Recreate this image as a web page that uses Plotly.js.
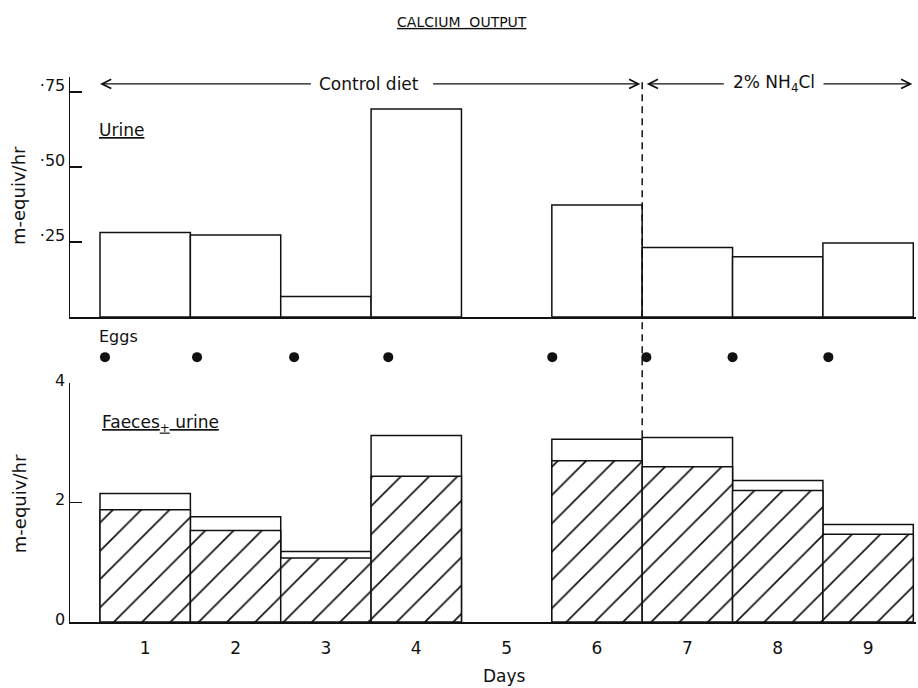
<!DOCTYPE html>
<html><head><meta charset="utf-8">
<script src="https://cdn.plot.ly/plotly-3.0.1.min.js"></script>
<style>html,body{margin:0;padding:0;background:#fff}</style>
</head><body><div id="chart" style="width:918px;height:688px"></div>
<script>
// ---- data ----
const days = [1, 2, 3, 4, 5, 6, 7, 8, 9];
const dayLabels = ['1', '2', '3', '4', '5', '6', '7', '8', '9'];
const urineCa  = [0.282, 0.273, 0.068, 0.693, null, 0.373, 0.232, 0.201, 0.247];
const totalCa  = [2.15, 1.76, 1.18, 3.12, null, 3.06, 3.09, 2.37, 1.63];
const faecesCa = [1.88, 1.53, 1.07, 2.44, null, 2.70, 2.60, 2.20, 1.47];
const eggTimes = [0.555, 1.574, 2.648, 3.69, 5.505, 6.546, 7.5, 8.56];
const urineTicks = [0.25, 0.5, 0.75];
const urineTickText = ['·25', '·50', '·75'];
const totalTicks = [0, 2, 4];
const totalTickText = ['0', '2', '4'];
const dietChangeDay = 6.5;

const FONT = 'DejaVu Sans, Arial, sans-serif';
const black = '#111';

const traces = [
  { type: 'bar', x: days, y: urineCa, xaxis: 'x2', yaxis: 'y2', width: 1,
    marker: { color: 'white', line: { color: black, width: 1.5 } }, hoverinfo: 'skip' },
  { type: 'bar', x: days, y: totalCa, xaxis: 'x', yaxis: 'y', width: 1,
    marker: { color: 'white', line: { color: black, width: 1.5 } }, hoverinfo: 'skip' },
  { type: 'bar', x: days, y: faecesCa, xaxis: 'x', yaxis: 'y', width: 1,
    marker: { color: 'white', line: { color: black, width: 1.5 },
      pattern: { shape: '/', fgcolor: black, bgcolor: 'white', size: 20, solidity: 0.085 } },
    hoverinfo: 'skip' },
  { type: 'scatter', mode: 'markers', x: eggTimes, y: eggTimes.map(() => 0),
    xaxis: 'x3', yaxis: 'y3', marker: { color: black, size: 10 }, hoverinfo: 'skip' }
];

const yTitle = (y) => ({ xref: 'paper', yref: 'paper', x: -0.0603, y: y, xanchor: 'center', yanchor: 'middle',
  text: 'm-equiv/hr', textangle: -90, showarrow: false, font: { family: FONT, size: 18, color: black } });
const arrow = (xHead, xTail, y) => ({ xref: 'x2', yref: 'y2', axref: 'x2', ayref: 'y2',
  x: xHead, y: y, ax: xTail, ay: y, text: '', showarrow: true, arrowhead: 5,
  arrowsize: 1.4, arrowwidth: 1.3, arrowcolor: black, standoff: 0, startstandoff: 0 });

const layout = {
  width: 918, height: 688,
  margin: { l: 70, r: 2, t: 77, b: 66 },
  paper_bgcolor: 'white', plot_bgcolor: 'white',
  showlegend: false, barmode: 'overlay', bargap: 0,
  font: { family: FONT, color: black },
  title: { text: '<u>CALCIUM  OUTPUT</u>', xref: 'container', yref: 'container',
    x: 0.503, y: 0.968, xanchor: 'center', yanchor: 'middle', font: { family: FONT, size: 14, color: black } },
  xaxis: { domain: [0, 1], range: [0.168, 9.53], anchor: 'y', showline: true, linecolor: black, linewidth: 1.5,
    ticks: '', tickvals: days, ticktext: dayLabels, tickfont: { family: FONT, size: 17, color: black },
    ticklabelstandoff: 10, showgrid: false, zeroline: false, fixedrange: true },
  xaxis2: { matches: 'x', anchor: 'y2', showline: true, linecolor: black, linewidth: 1.5,
    ticks: '', showticklabels: false, showgrid: false, zeroline: false, fixedrange: true },
  xaxis3: { matches: 'x', anchor: 'y3', visible: false, fixedrange: true },
  yaxis: { domain: [0, 0.4385], range: [0, 4], anchor: 'x', showline: true, linecolor: black, linewidth: 1.5,
    ticks: 'inside', ticklen: 12, tickwidth: 1.5, tickcolor: black, tickvals: totalTicks, ticktext: totalTickText,
    ticklabelshift: -3,
    tickfont: { family: FONT, size: 16, color: black }, showgrid: false, zeroline: false, fixedrange: true },
  yaxis2: { domain: [0.5596, 1], range: [0, 0.8], anchor: 'x2', showline: true, linecolor: black, linewidth: 1.5,
    ticks: 'inside', ticklen: 12, tickwidth: 1.5, tickcolor: black, tickvals: urineTicks, ticktext: urineTickText,
    ticklabelshift: -7,
    tickfont: { family: FONT, size: 16, color: black }, showgrid: false, zeroline: false, fixedrange: true },
  yaxis3: { domain: [0.446, 0.526], range: [-1, 1], anchor: 'x3', visible: false, fixedrange: true },
  shapes: [
    { type: 'line', xref: 'x', yref: 'paper', x0: dietChangeDay, x1: dietChangeDay, y0: 0.339, y1: 0.995,
      line: { color: black, width: 1.5, dash: '7px,5px' } }
  ],
  annotations: [
    yTitle(0.7835), yTitle(0.218),
    { xref: 'paper', yref: 'paper', x: 0.514, y: -0.099, xanchor: 'center', yanchor: 'middle', text: 'Days',
      showarrow: false, font: { family: FONT, size: 17, color: black } },
    { xref: 'x2', yref: 'y2', x: 0.467, y: 0.623, xanchor: 'left', yanchor: 'middle', text: '<u>Urine</u>',
      showarrow: false, font: { family: FONT, size: 17, color: black } },
    { xref: 'paper', yref: 'paper', x: 0.032, y: 0.523, xanchor: 'left', yanchor: 'middle', text: 'Eggs',
      showarrow: false, font: { family: FONT, size: 16, color: black } },
    { xref: 'x', yref: 'y', x: 0.5, y: 3.33, xanchor: 'left', yanchor: 'middle',
      text: '<u>Faeces<sub>+</sub> urine</u>', showarrow: false, font: { family: FONT, size: 17, color: black } },
    { xref: 'x2', yref: 'y2', x: 3.48, y: 0.777, yanchor: 'middle', text: 'Control diet', showarrow: false,
      font: { family: FONT, size: 17, color: black } },
    { xref: 'x2', yref: 'y2', x: 7.96, y: 0.777, yanchor: 'middle', text: '2% NH<sub>4</sub>Cl', showarrow: false,
      font: { family: FONT, size: 17, color: black } },
    arrow(0.5, 2.85, 0.777), arrow(6.48, 4.17, 0.777),
    arrow(6.55, 7.42, 0.777), arrow(9.49, 8.49, 0.777)
  ]
};

Plotly.newPlot('chart', traces, layout, { staticPlot: true, displayModeBar: false });
</script>
</body></html>
